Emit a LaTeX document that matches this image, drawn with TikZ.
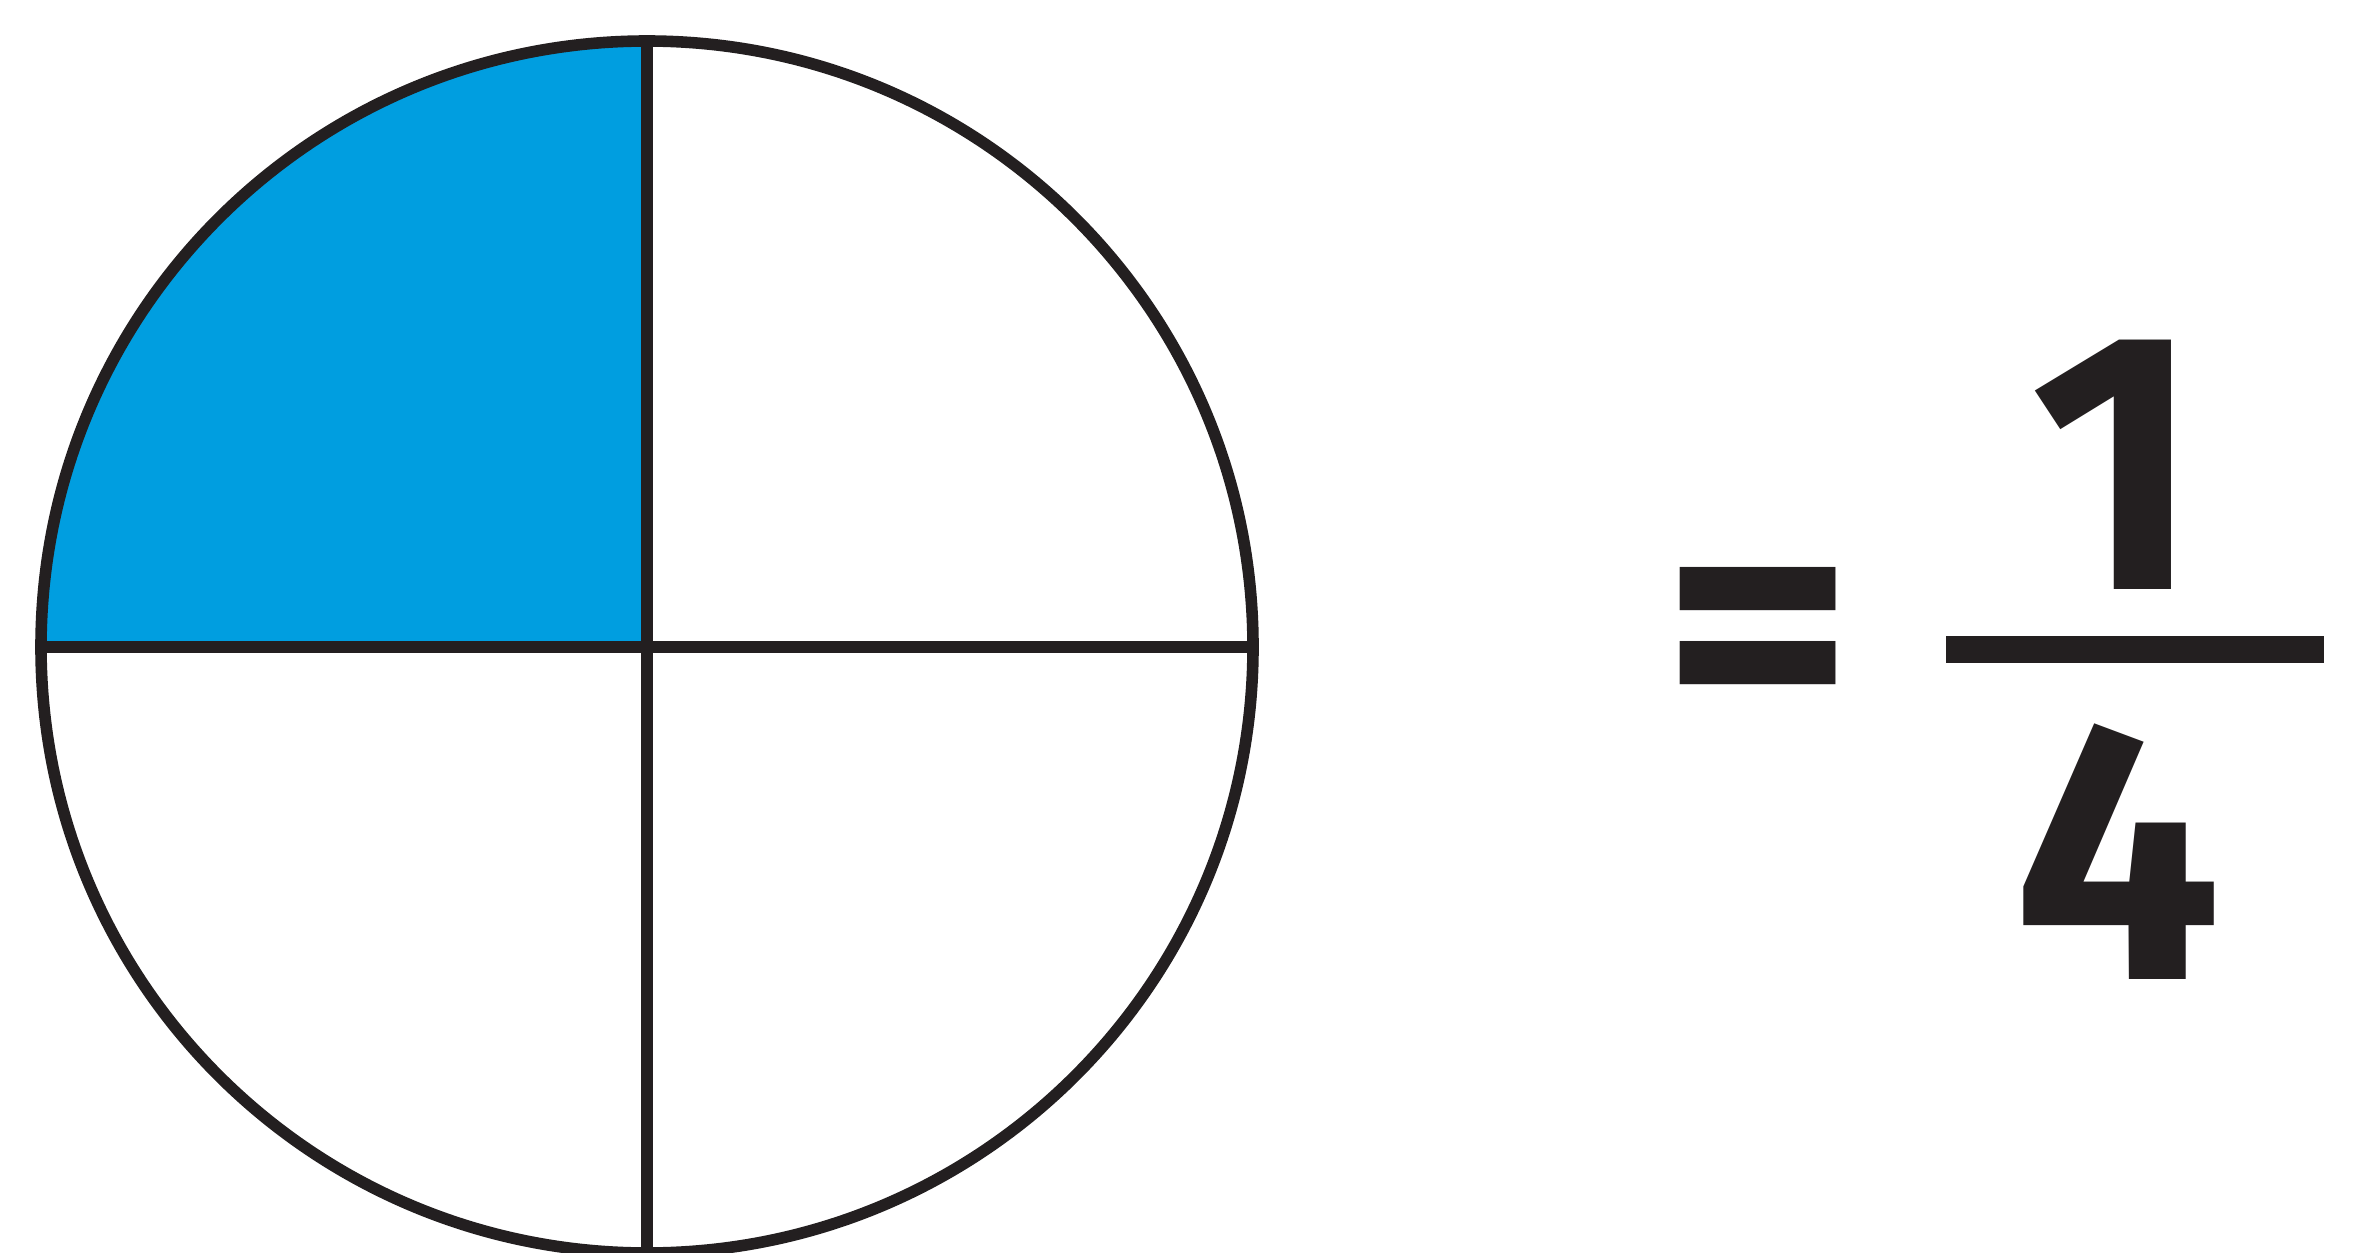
\documentclass[tikz,border=0pt]{standalone}
\usepackage{fontspec}
\setmainfont{Fira Sans}
\definecolor{sliceblue}{RGB}{0,158,224}
\definecolor{ink}{RGB}{35,31,32}
\begin{document}
\begin{tikzpicture}[x=1cm,y=1cm,
  outline/.style={draw=ink, line width=3.3pt},
  digit/.style={text=ink, inner sep=0pt, font=\fontsize{105}{105}\selectfont\bfseries},
  fracbar/.style={fill=ink, draw=none}]
\useasboundingbox (0,0) rectangle (23.67,-12.53);
\fill[white] (0,0) rectangle (23.67,-12.53);
\coordinate (c) at (6.47,-6.47);
\coordinate (w) at (0.41,-6.47);
\coordinate (e) at (12.53,-6.47);
\coordinate (n) at (6.47,-0.41);
\coordinate (s) at (6.47,-12.53);
\fill[sliceblue] (c) -- (w) arc[start angle=180, end angle=90, radius=6.06] -- cycle;
\draw[outline] (c) circle[radius=6.06];
\draw[outline] (w) -- (e);
\draw[outline] (n) -- (s);
\node[digit] (eq) at (17.58,-6.55) {\scalebox{1}[0.96]{=}};
\node[digit] (num) at (21.16,-4.65) {1};
\node[digit] (den) at (21.18,-8.52) {4};
\fill[fracbar] (19.46,-6.36) rectangle (23.24,-6.63);
\end{tikzpicture}
\end{document}
